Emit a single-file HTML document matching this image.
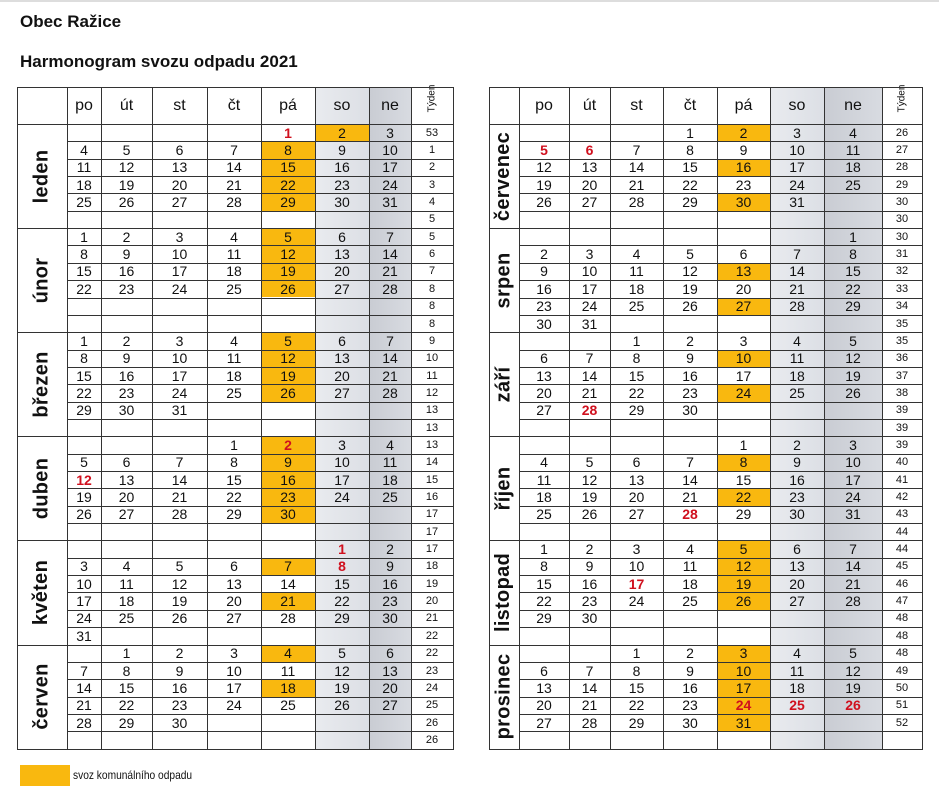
<!DOCTYPE html>
<html><head><meta charset="utf-8"><style>
body{margin:0;width:939px;height:792px;background:#fff;font-family:"Liberation Sans",sans-serif;position:relative;overflow:hidden;color:#111}
.a{position:absolute;box-sizing:border-box}
.t{font-weight:bold;font-size:17px}
.c{display:flex;align-items:center;justify-content:center;font-size:14px}
.m{font-weight:bold;font-size:20px;white-space:nowrap;transform:rotate(-90deg);letter-spacing:0.3px;display:inline-block}
</style></head><body>
<div style="position:absolute;left:0;top:0;width:939px;height:2px;background:#ddd"></div>
<div class="a t" style="left:20px;top:12px">Obec Ražice</div>
<div class="a t" style="left:20px;top:52px">Harmonogram svozu odpadu 2021</div>
<div class="a" style="left:20px;top:765px;width:50px;height:21px;background:#f9b80f"></div>
<div class="a" style="left:73px;top:768px;font-size:12px;transform:scaleX(.85);transform-origin:left;white-space:nowrap">svoz komunálního odpadu</div>
<div id="root"></div>
<script>
(function(){
const L={xs:[17,67,101,152,207,261,315,369,411,453],months:[
["leden",[[["","","","","1r","2o","3"],53],[[4,5,6,7,"8o",9,10],1],[[11,12,13,14,"15o",16,17],2],[[18,19,20,21,"22o",23,24],3],[[25,26,27,28,"29o",30,31],4],[[],5]]],
["únor",[[[1,2,3,4,"5o",6,7],5],[[8,9,10,11,"12o",13,14],6],[[15,16,17,18,"19o",20,21],7],[[22,23,24,25,"26o",27,28],8],[[],8],[[],8]]],
["březen",[[[1,2,3,4,"5o",6,7],9],[[8,9,10,11,"12o",13,14],10],[[15,16,17,18,"19o",20,21],11],[[22,23,24,25,"26o",27,28],12],[[29,30,31],13],[[],13]]],
["duben",[[["","","",1,"2or",3,4],13],[[5,6,7,8,"9o",10,11],14],[["12r",13,14,15,"16o",17,18],15],[[19,20,21,22,"23o",24,25],16],[[26,27,28,29,"30o"],17],[[],17]]],
["květen",[[["","","","","","1r",2],17],[[3,4,5,6,"7o","8r",9],18],[[10,11,12,13,14,15,16],19],[[17,18,19,20,"21o",22,23],20],[[24,25,26,27,28,29,30],21],[[31],22]]],
["červen",[[["",1,2,3,"4o",5,6],22],[[7,8,9,10,11,12,13],23],[[14,15,16,17,"18o",19,20],24],[[21,22,23,24,25,26,27],25],[[28,29,30],26],[[],26]]]]};
const R={xs:[489,519,569,610,663,717,770,824,882,922],months:[
["červenec",[[["","","",1,"2o",3,4],26],[["5r","6r",7,8,9,10,11],27],[[12,13,14,15,"16o",17,18],28],[[19,20,21,22,23,24,25],29],[[26,27,28,29,"30o",31],30],[[],30]]],
["srpen",[[["","","","","","",1],30],[[2,3,4,5,6,7,8],31],[[9,10,11,12,"13o",14,15],32],[[16,17,18,19,20,21,22],33],[[23,24,25,26,"27o",28,29],34],[[30,31],35]]],
["září",[[["","",1,2,3,4,5],35],[[6,7,8,9,"10o",11,12],36],[[13,14,15,16,17,18,19],37],[[20,21,22,23,"24o",25,26],38],[[27,"28r",29,30],39],[[],39]]],
["říjen",[[["","","","",1,2,3],39],[[4,5,6,7,"8o",9,10],40],[[11,12,13,14,15,16,17],41],[[18,19,20,21,"22o",23,24],42],[[25,26,27,"28r",29,30,31],43],[[],44]]],
["listopad",[[[1,2,3,4,"5o",6,7],44],[[8,9,10,11,"12o",13,14],45],[[15,16,"17r",18,"19o",20,21],46],[[22,23,24,25,"26o",27,28],47],[[29,30],48],[[],48]]],
["prosinec",[[["","",1,2,"3o",4,5],48],[[6,7,8,9,"10o",11,12],49],[[13,14,15,16,"17o",18,19],50],[[20,21,22,23,"24or","25r","26r"],51],[[27,28,29,30,"31o"],52],[[],""]]]]};
let h="";const T0=87,hb=124,rh=17.35;
function box(x,y,w,hh,st,txt,cls){h+='<div class="a '+(cls||'')+'" style="left:'+x+'px;top:'+y+'px;width:'+w+'px;height:'+hh+'px;'+st+'">'+(txt===undefined?'':txt)+'</div>';}
function line(x,y,w,hh){h+='<div class="a" style="left:'+x+'px;top:'+y+'px;width:'+w+'px;height:'+hh+'px;background:#333"></div>';}
[L,R].forEach(function(T){const xs=T.xs,bot=hb+36*rh;
box(xs[6],T0,xs[7]-xs[6],bot-T0,"background:linear-gradient(90deg,#e9ebef,#dcdfe5)");
box(xs[7],T0,xs[8]-xs[7],bot-T0,"background:linear-gradient(90deg,#c9ccd3,#d8dbe1)");
const hd=["po","út","st","čt","pá","so","ne"];
hd.forEach(function(d,i){box(xs[i+1],T0,xs[i+2]-xs[i+1],hb-T0,"font-size:16px",d,"c");});
box(xs[8],T0,xs[9]-xs[8],hb-T0,"","<span style='transform:rotate(-90deg);font-size:10px;display:inline-block;margin-top:-14px'>Týden</span>","c");
T.months.forEach(function(M,mi){const y0=hb+mi*6*rh;
box(xs[0],y0,xs[1]-xs[0],6*rh,"","<span class='m'>"+M[0]+"</span>","c");
M[1].forEach(function(r,ri){const y=y0+ri*rh;
for(let i=0;i<7;i++){let v=r[0][i];if(v===undefined)v="";v=String(v);let st="";
if(v.indexOf("o")>=0)st+="background:#f9b80f;";if(v.indexOf("r")>=0)st+="color:#d0101e;font-weight:bold;";
v=v.replace(/[or]/g,"");box(xs[i+1],y,xs[i+2]-xs[i+1],rh,st,v,"c");}
box(xs[8],y,xs[9]-xs[8],rh,"font-size:11px",r[1],"c");
if(ri>0)line(xs[1],y,xs[9]-xs[1],1);});
line(xs[0],y0,xs[9]-xs[0],1);});
xs.forEach(function(x){line(x,T0,1,bot-T0);});
line(xs[0],T0,xs[9]-xs[0]+1,1);line(xs[0],bot,xs[9]-xs[0]+1,1);});
document.getElementById("root").innerHTML=h;
})();
</script>
</body></html>
